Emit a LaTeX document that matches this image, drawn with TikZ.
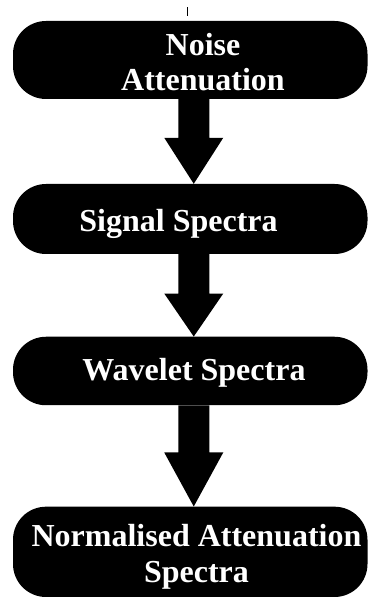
\documentclass[tikz,border=0pt]{standalone}
\usepackage{fontspec}
\setmainfont{Liberation Serif}
\usetikzlibrary{calc}

\tikzset{
    stage/.style={fill=black,rounded corners=33pt,minimum width=354.5pt,inner sep=0pt},
    stagetext/.style={text=white,font=\fontsize{32}{35.5}\selectfont\bfseries,
        align=center,inner sep=0pt},
}

\begin{document}
\begin{tikzpicture}[x=1pt,y=1pt]
        \def\ax{3.5}
        \useasboundingbox (0,0) rectangle (367,600);

        \node[stage,minimum height=78pt] (noise) at (190.25,540) {};
        \node[stage,minimum height=70pt] (signal) at (190.25,381) {};
        \node[stage,minimum height=68.5pt] (wavelet) at (190.25,229) {};
        \node[stage,minimum height=90.3pt] (norm) at (190.25,48.15) {};

        \node[stagetext] (noisetext) at ($(noise)+(12.75,-2)$)
            {Noise\\Attenuation};
        \node[stagetext] (signaltext) at ($(signal)+(-11.75,-5.2)$)
            {Signal Spectra};
        \node[stagetext] (wavelettext) at ($(wavelet)+(3.75,-1.7)$)
            {Wavelet Spectra};
        \node[stagetext] (normtext) at ($(norm)+(6.25,-4.85)$)
            {Normalised Attenuation\\Spectra};

        \foreach \a/\b/\hl in {noise/signal/46,signal/wavelet/43,wavelet/norm/54}
            \fill ($(\a.south)+(\ax-15.5,0)$) -- ($(\b.north)+(\ax-15.5,\hl)$)
                -- ($(\b.north)+(\ax-29.5,\hl)$) -- ($(\b.north)+(\ax,0)$)
                -- ($(\b.north)+(\ax+29.5,\hl)$) -- ($(\b.north)+(\ax+15.5,\hl)$)
                -- ($(\a.south)+(\ax+15.5,0)$) -- cycle;

        \draw[line width=1.5pt] (187.5,584) -- (187.5,593);

    \end{tikzpicture}
\end{document}
